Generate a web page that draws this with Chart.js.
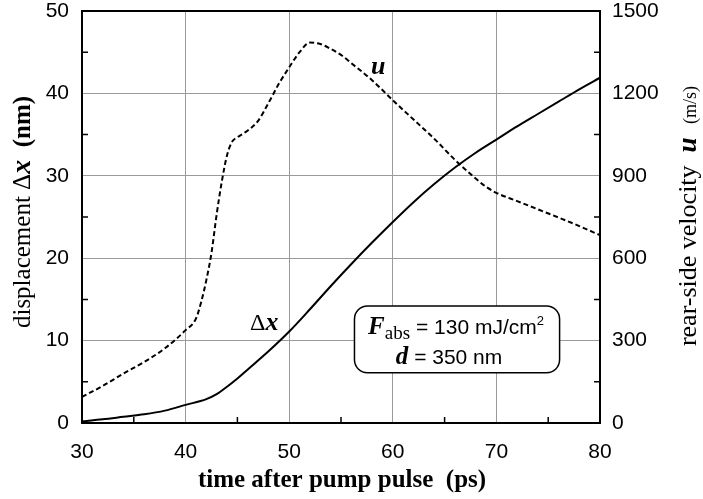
<!DOCTYPE html>
<html>
<head>
<meta charset="utf-8">
<script src="https://cdn.jsdelivr.net/npm/chart.js@4.4.1/dist/chart.umd.min.js"></script>
<style>
  html, body { margin: 0; background: #fff; }
  #wrap { width: 703px; height: 499px; }
</style>
</head>
<body>
<div id="wrap"><canvas id="chart" width="703" height="499"></canvas></div>
<script>
// displacement Δx (nm) vs time (ps)
const dxTimes = [30, 32, 34, 36, 38, 40, 42, 43, 44, 45, 46, 48, 50, 52, 54, 56, 58, 60, 62, 64, 66, 68, 70, 72, 74, 76, 78, 80];
const dxValues = [0.2, 0.45, 0.75, 1.05, 1.5, 2.2, 2.9, 3.5, 4.4, 5.4, 6.5, 8.7, 11.1, 13.8, 16.6, 19.3, 21.9, 24.4, 26.8, 29.0, 31.0, 32.8, 34.4, 36.0, 37.5, 39.0, 40.5, 41.9];

// rear-side velocity u (m/s) vs time (ps)
const uTimes = [30, 32, 34, 36, 38, 40, 41, 41.5, 42, 42.5, 43, 43.5, 44, 44.5, 45, 46, 47, 48, 49, 50, 51, 52, 53, 54, 55, 56, 58, 60, 62, 64, 66, 68, 69, 70, 72, 74, 76, 78, 80];
const uValues = [95, 135, 180, 222, 272, 338, 380, 440, 520, 620, 760, 880, 975, 1025, 1040, 1065, 1100, 1165, 1235, 1295, 1350, 1385, 1380, 1362, 1340, 1310, 1248, 1175, 1105, 1035, 958, 890, 860, 838, 808, 778, 748, 717, 684];

const xMin = 30, xMax = 80, xStep = 5, xLabelStep = 10;
const yMin = 0, yMax = 50, yStep = 5, yLabelStep = 10;
const uMin = 0, uMax = 1500, uStep = 150, uLabelStep = 300;

const SANS = "'Liberation Sans', Arial, sans-serif";
const SERIF = "'Liberation Serif', 'Times New Roman', serif";

function isMajor(v, step) {
  return Math.abs(v / step - Math.round(v / step)) < 1e-6;
}

function drawRuns(ctx, runs, cx, cy, angle, align) {
  ctx.save();
  ctx.translate(cx, cy);
  if (angle) ctx.rotate(angle);
  let total = 0;
  runs.forEach((r) => {
    ctx.font = r.font;
    r.w = ctx.measureText(r.text).width;
    total += r.w;
  });
  let x = align === "left" ? 0 : -total / 2;
  ctx.fillStyle = "#000";
  ctx.textBaseline = "alphabetic";
  ctx.textAlign = "left";
  runs.forEach((r) => {
    ctx.font = r.font;
    ctx.fillText(r.text, x, r.dy || 0);
    x += r.w;
  });
  ctx.restore();
}

// fixed box sizes so the plot area lands where the original has it
function fixSize(size) {
  return (s) => {
    if (s.isHorizontal()) s.height = size; else s.width = size;
    s.paddingTop = 0;
    s.paddingBottom = 0;
    s.paddingLeft = 0;
    s.paddingRight = 0;
  };
}

const decorations = {
  id: "decorations",
  afterDraw(chart) {
    const ctx = chart.ctx;
    const a = chart.chartArea;
    const xs = chart.scales.x, ys = chart.scales.y, us = chart.scales.y1;

    // inward minor ticks
    ctx.save();
    ctx.strokeStyle = "#000";
    ctx.lineWidth = 1.5;
    ctx.beginPath();
    xs.ticks.forEach((t) => {
      if (isMajor(t.value, xLabelStep)) return;
      const px = xs.getPixelForValue(t.value);
      ctx.moveTo(px, a.bottom);
      ctx.lineTo(px, a.bottom - 6);
    });
    ys.ticks.forEach((t) => {
      if (isMajor(t.value, yLabelStep)) return;
      const py = ys.getPixelForValue(t.value);
      ctx.moveTo(a.left, py);
      ctx.lineTo(a.left + 6, py);
    });
    us.ticks.forEach((t) => {
      if (isMajor(t.value, uLabelStep)) return;
      const py = us.getPixelForValue(t.value);
      ctx.moveTo(a.right, py);
      ctx.lineTo(a.right - 6, py);
    });
    ctx.stroke();

    // frame
    ctx.lineWidth = 2;
    ctx.strokeRect(a.left, a.top, a.right - a.left, a.bottom - a.top);
    ctx.restore();

    // parameter box
    const bx0 = xs.getPixelForValue(56.3), bx1 = xs.getPixelForValue(76.1);
    const by0 = ys.getPixelForValue(14.2), by1 = ys.getPixelForValue(6.1);
    ctx.save();
    ctx.beginPath();
    ctx.roundRect(bx0, by0, bx1 - bx0, by1 - by0, 13);
    ctx.fillStyle = "#fff";
    ctx.fill();
    ctx.lineWidth = 1.5;
    ctx.strokeStyle = "#000";
    ctx.stroke();
    ctx.restore();
    const bcx = (bx0 + bx1) / 2;
    drawRuns(ctx, [
      { text: "F", font: `bold italic 25px ${SERIF}` },
      { text: "abs", font: `19px ${SERIF}`, dy: 5 },
      { text: " = 130 mJ/cm", font: `21px ${SANS}` },
      { text: "2", font: `13px ${SANS}`, dy: -9 }
    ], bcx - 1, by0 + 28, 0);
    drawRuns(ctx, [
      { text: "d", font: `bold italic 25px ${SERIF}` },
      { text: " = 350 nm", font: `21px ${SANS}` }
    ], bcx - 8, by0 + 58, 0);

    // curve labels
    drawRuns(ctx, [{ text: "u", font: `bold italic 26px ${SERIF}` }],
      xs.getPixelForValue(58.6), ys.getPixelForValue(42.4), 0);
    drawRuns(ctx, [
      { text: "\u0394", font: `24px ${SERIF}` },
      { text: "x", font: `bold italic 26px ${SERIF}` }
    ], xs.getPixelForValue(47.6), ys.getPixelForValue(11.3), 0);

    // axis titles
    drawRuns(ctx, [
      { text: "displacement ", font: `25px ${SERIF}` },
      { text: "\u0394", font: `25px ${SERIF}` },
      { text: "x", font: `bold italic 28px ${SERIF}` },
      { text: "  (nm)", font: `bold 25px ${SERIF}` }
    ], 30, 212, -Math.PI / 2);
    drawRuns(ctx, [
      { text: "rear-side velocity  ", font: `26px ${SERIF}` },
      { text: "u", font: `bold italic 27px ${SERIF}` },
      { text: "   (m/s)", font: `18px ${SERIF}` }
    ], 696, 216, -Math.PI / 2);
    drawRuns(ctx, [
      { text: "time after pump pulse  (ps)", font: `bold 25px ${SERIF}` }
    ], 342, 487, 0);
  }
};

const tickFont = { family: SANS, size: 21 };

new Chart(document.getElementById("chart"), {
  type: "line",
  data: {
    datasets: [
      {
        label: "\u0394x",
        data: dxTimes.map((t, i) => ({ x: t, y: dxValues[i] })),
        yAxisID: "y",
        borderColor: "#000",
        borderWidth: 2,
        pointRadius: 0,
        cubicInterpolationMode: "monotone",
        fill: false
      },
      {
        label: "u",
        data: uTimes.map((t, i) => ({ x: t, y: uValues[i] })),
        yAxisID: "y1",
        borderColor: "#000",
        borderWidth: 2,
        borderDash: [5, 3],
        pointRadius: 0,
        cubicInterpolationMode: "monotone",
        fill: false
      }
    ]
  },
  options: {
    responsive: false,
    animation: false,
    devicePixelRatio: 1,
    layout: { padding: { top: 11, left: 0, right: 0, bottom: 0 } },
    plugins: { legend: { display: false }, tooltip: { enabled: false } },
    scales: {
      x: {
        type: "linear",
        min: xMin, max: xMax,
        afterFit: fixSize(76),
        ticks: {
          stepSize: xStep,
          color: "#000",
          font: tickFont,
          padding: 17,
          maxRotation: 0,
          autoSkip: false,
          callback: (v) => (isMajor(v, xLabelStep) ? String(v) : "")
        },
        grid: {
          drawTicks: false,
          color: (c) => (c.tick && isMajor(c.tick.value, xLabelStep) ? "#9a9a9a" : "rgba(0,0,0,0)"),
          lineWidth: 1
        },
        border: { display: false }
      },
      y: {
        type: "linear",
        position: "left",
        min: yMin, max: yMax,
        afterFit: fixSize(82),
        ticks: {
          stepSize: yStep,
          color: "#000",
          font: tickFont,
          padding: 13,
          autoSkip: false,
          callback: (v) => (isMajor(v, yLabelStep) ? String(v) : "")
        },
        grid: {
          drawTicks: false,
          color: (c) => (c.tick && isMajor(c.tick.value, yLabelStep) ? "#9a9a9a" : "rgba(0,0,0,0)"),
          lineWidth: 1
        },
        border: { display: false }
      },
      y1: {
        type: "linear",
        position: "right",
        min: uMin, max: uMax,
        afterFit: fixSize(103),
        ticks: {
          stepSize: uStep,
          color: "#000",
          font: tickFont,
          padding: 12,
          autoSkip: false,
          callback: (v) => (isMajor(v, uLabelStep) ? String(v) : "")
        },
        grid: { drawOnChartArea: false, drawTicks: false },
        border: { display: false }
      }
    }
  },
  plugins: [decorations]
});
</script>
</body>
</html>
